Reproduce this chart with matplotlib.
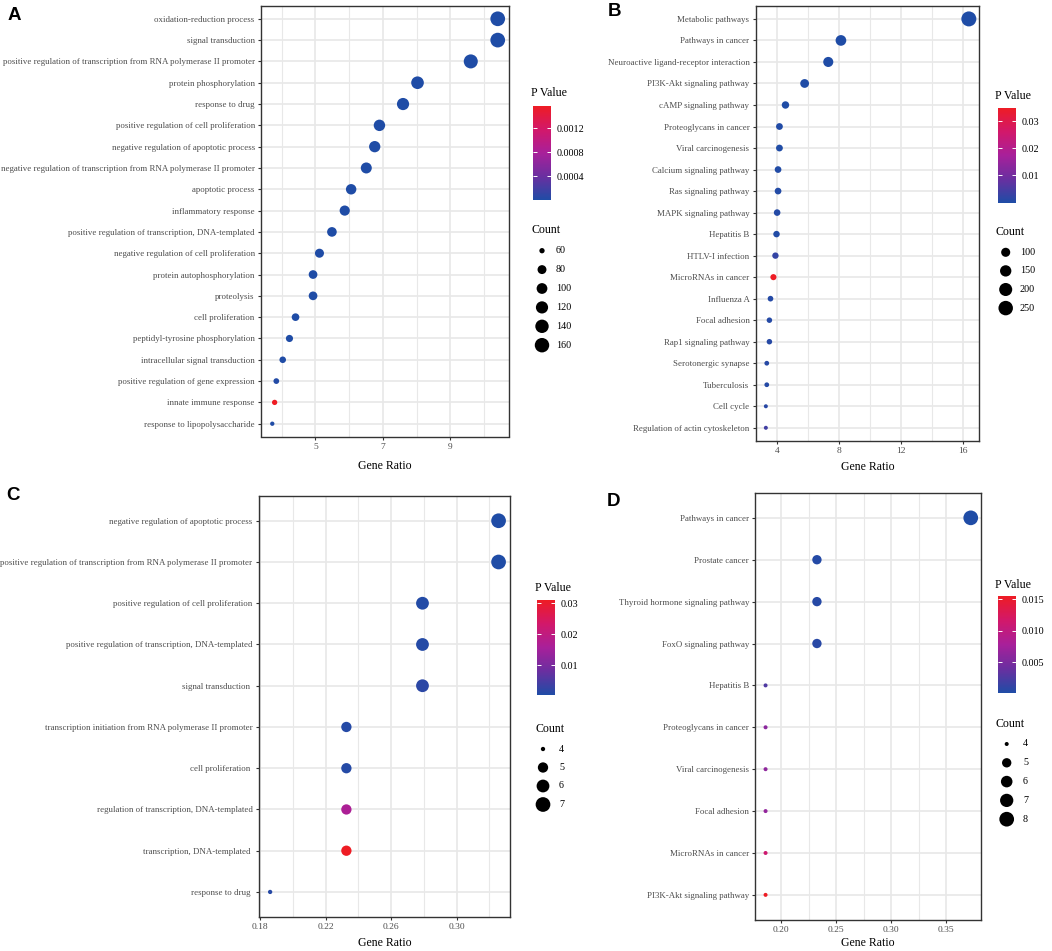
import numpy as np
import matplotlib
matplotlib.use("Agg")
import matplotlib.pyplot as plt
from matplotlib.colors import LinearSegmentedColormap, Normalize
from matplotlib.cm import ScalarMappable

W, H = 1052, 951

plt.rcParams["font.family"] = ["Liberation Serif", "DejaVu Serif"]

# ---- panel A : GO terms
a_terms = [
    "oxidation-reduction process",
    "signal transduction",
    "positive regulation of transcription from RNA polymerase II promoter",
    "protein phosphorylation",
    "response to drug",
    "positive regulation of cell proliferation",
    "negative regulation of apoptotic process",
    "negative regulation of transcription from RNA polymerase II promoter",
    "apoptotic process",
    "inflammatory response",
    "positive regulation of transcription, DNA-templated",
    "negative regulation of cell proliferation",
    "protein autophosphorylation",
    "proteolysis",
    "cell proliferation",
    "peptidyl-tyrosine phosphorylation",
    "intracellular signal transduction",
    "positive regulation of gene expression",
    "innate immune response",
    "response to lipopolysaccharide",
]
a_ratio = [10.41, 10.41, 9.61, 8.03, 7.60, 6.90, 6.76, 6.51, 6.06, 5.87,
           5.49, 5.12, 4.93, 4.93, 4.41, 4.23, 4.03, 3.84, 3.79, 3.72]
a_count = [165, 165, 152, 127, 120, 109, 107, 103, 96, 93,
           87, 81, 78, 78, 70, 67, 64, 61, 60, 59]
a_pvalue = [1e-12, 1e-11, 1e-9, 1e-10, 2e-8, 3e-8, 5e-8, 1e-7, 4e-8, 2e-7,
            1e-6, 3e-6, 1e-8, 2e-6, 5e-6, 1e-6, 8e-6, 2e-5, 0.00157, 1e-5]
a_xticks = [5, 7, 9]
a_xminor = [4, 6, 8, 10]
a_xticklabels = ["5", "7", "9"]
a_pticks = [0.0004, 0.0008, 0.0012]
a_plabels = ["0.0004", "0.0008", "0.0012"]
a_keys = [60, 80, 100, 120, 140, 160]

# ---- panel B : KEGG pathways
b_terms = [
    "Metabolic pathways", "Pathways in cancer",
    "Neuroactive ligand-receptor interaction", "PI3K-Akt signaling pathway",
    "cAMP signaling pathway", "Proteoglycans in cancer", "Viral carcinogenesis",
    "Calcium signaling pathway", "Ras signaling pathway", "MAPK signaling pathway",
    "Hepatitis B", "HTLV-I infection", "MicroRNAs in cancer", "Influenza A",
    "Focal adhesion", "Rap1 signaling pathway", "Serotonergic synapse",
    "Tuberculosis", "Cell cycle", "Regulation of actin cytoskeleton",
]
b_ratio = [16.41, 8.13, 7.31, 5.78, 4.54, 4.15, 4.15, 4.06, 4.06, 4.00,
           3.96, 3.89, 3.76, 3.57, 3.50, 3.50, 3.33, 3.33, 3.27, 3.27]
b_count = [270, 134, 120, 95, 75, 68, 68, 67, 67, 66,
           65, 64, 62, 59, 58, 58, 55, 55, 54, 54]
b_pvalue = [1e-20, 1e-9, 1e-7, 1e-5, 1e-4, 3e-4, 2e-4, 4e-4, 5e-4, 6e-4,
            3e-4, 0.0025, 0.0349, 7e-4, 8e-4, 9e-4, 1e-3, 8e-4, 1.2e-3, 0.004]
b_xticks = [4, 8, 12, 16]
b_xminor = [6, 10, 14]
b_xticklabels = ["4", "8", "12", "16"]
b_pticks = [0.01, 0.02, 0.03]
b_plabels = ["0.01", "0.02", "0.03"]
b_keys = [100, 150, 200, 250]

# ---- panel C : GO terms (second set)
c_terms = [
    "negative regulation of apoptotic process",
    "positive regulation of transcription from RNA polymerase II promoter",
    "positive regulation of cell proliferation",
    "positive regulation of transcription, DNA-templated",
    "signal transduction ",
    "transcription initiation from RNA polymerase II promoter",
    "cell proliferation ",
    "regulation of transcription, DNA-templated",
    "transcription, DNA-templated ",
    "response to drug ",
]
c_ratio = [0.3256, 0.3256, 0.2791, 0.2791, 0.2791, 0.2326, 0.2326, 0.2326, 0.2326, 0.1860]
c_count = [7, 7, 6, 6, 6, 5, 5, 5, 5, 4]
c_pvalue = [0.0004, 0.0005, 0.0008, 0.0009, 0.0016, 0.0010, 0.0011, 0.0165, 0.0311, 0.0012]
c_xticks = [0.18, 0.22, 0.26, 0.30]
c_xminor = [0.20, 0.24, 0.28, 0.32]
c_xticklabels = ["0.18", "0.22", "0.26", "0.30"]
c_pticks = [0.01, 0.02, 0.03]
c_plabels = ["0.01", "0.02", "0.03"]
c_keys = [4, 5, 6, 7]

# ---- panel D : KEGG pathways (second set)
d_terms = [
    "Pathways in cancer", "Prostate cancer", "Thyroid hormone signaling pathway",
    "FoxO signaling pathway", "Hepatitis B", "Proteoglycans in cancer",
    "Viral carcinogenesis", "Focal adhesion", "MicroRNAs in cancer",
    "PI3K-Akt signaling pathway",
]
d_ratio = [0.3721, 0.2326, 0.2326, 0.2326, 0.1860, 0.1860, 0.1860, 0.1860, 0.1860, 0.1860]
d_count = [8, 5, 5, 5, 4, 4, 4, 4, 4, 4]
d_pvalue = [0.0001, 0.0004, 0.0005, 0.0006, 0.0026, 0.0060, 0.0062, 0.0065, 0.0112, 0.0155]
d_xticks = [0.20, 0.25, 0.30, 0.35]
d_xminor = [0.225, 0.275, 0.325]
d_xticklabels = ["0.20", "0.25", "0.30", "0.35"]
d_pticks = [0.005, 0.010, 0.015]
d_plabels = ["0.005", "0.010", "0.015"]
d_keys = [4, 5, 6, 7, 8]

cmap = LinearSegmentedColormap.from_list(
    "pval", ["#1f4ca6", "#6a2fa0", "#a8209a", "#d2186a", "#ee1c24"])

GRID = "#E8E8E8"
EDGE = "#333333"


def rect(left, top, right, bottom):
    return [left / W, 1 - bottom / H, (right - left) / W, (bottom - top) / H]


def dot_area(counts, cmin, cmax, dmin, dmax):
    c = np.asarray(counts, dtype=float)
    d = dmin + (dmax - dmin) * np.sqrt(np.clip((c - cmin) / (cmax - cmin), 0, 1))
    return (d * 72 / 100) ** 2


def draw_panel(fig, box, terms, ratio, count, pvalue, xticks, xminor, xticklabels,
               dmin, dmax, labelpad):
    ax = fig.add_axes(rect(*box))
    n = len(terms)
    y = np.arange(n)[::-1]
    lo, hi = min(ratio), max(ratio)
    pad = (hi - lo) * 0.05
    norm = Normalize(min(pvalue), max(pvalue))
    ax.scatter(ratio, y, s=dot_area(count, min(count), max(count), dmin, dmax),
               c=pvalue, cmap=cmap, norm=norm, edgecolors="none", zorder=3)
    ax.set_xlim(lo - pad, hi + pad)
    ax.set_ylim(-0.6, n - 0.4)
    ax.set_yticks(y)
    ax.set_yticklabels(terms)
    ax.set_xticks(xticks)
    ax.set_xticklabels(xticklabels)
    ax.set_xticks(xminor, minor=True)
    ax.grid(True, which="major", color=GRID, lw=1.2, zorder=0)
    ax.grid(True, which="minor", axis="x", color=GRID, lw=0.8, zorder=0)
    ax.set_axisbelow(True)
    ax.tick_params(which="major", length=2.5, width=0.8, color=EDGE,
                   labelsize=6.4, labelcolor="#4D4D4D", pad=2)
    ax.tick_params(axis="x", labelsize=6.8)
    ax.tick_params(which="minor", length=0)
    for s in ax.spines.values():
        s.set_color(EDGE)
        s.set_linewidth(1.0)
    ax.set_xlabel("Gene Ratio", fontsize=8.5, labelpad=labelpad)
    return ax, norm


def draw_legend(fig, ov, norm, title_xy, cbar_box, pticks, plabels,
                count_title_y, key_y0, key_step, key_x, label_x,
                keys, cmin, cmax, dmin, dmax):
    ov.text(title_xy[0], title_xy[1], "P Value", fontsize=8.6, ha="left", va="center")
    cax = fig.add_axes(rect(*cbar_box))
    cb = fig.colorbar(ScalarMappable(norm=norm, cmap=cmap), cax=cax)
    cb.outline.set_visible(False)
    cb.set_ticks(pticks)
    cb.set_ticklabels(plabels)
    cax.minorticks_off()
    cax.tick_params(axis="y", left=True, right=True, labelleft=False,
                    labelright=True, direction="in", color="white",
                    length=3, width=0.7, labelsize=7.3, pad=4)
    ov.text(title_xy[0], count_title_y, "Count", fontsize=8.6, ha="left", va="center")
    ky = key_y0 + key_step * np.arange(len(keys))
    ov.scatter(np.full(len(keys), key_x), ky,
               s=dot_area(keys, cmin, cmax, dmin, dmax), c="black",
               edgecolors="none")
    for yy, k in zip(ky, keys):
        ov.text(label_x, yy, str(k), fontsize=7.3, ha="left", va="center")


fig = plt.figure(figsize=(W / 100, H / 100), dpi=100)

axA, normA = draw_panel(fig, (261, 6, 509, 436.5), a_terms, a_ratio, a_count,
                        a_pvalue, a_xticks, a_xminor, a_xticklabels, 4.3, 14.7, 7)
axB, normB = draw_panel(fig, (755.7, 6, 979, 440.7), b_terms, b_ratio, b_count,
                        b_pvalue, b_xticks, b_xminor, b_xticklabels, 4.0, 15.0, 4)
axC, normC = draw_panel(fig, (258.7, 496, 510, 916.7), c_terms, c_ratio, c_count,
                        c_pvalue, c_xticks, c_xminor, c_xticklabels, 4.3, 14.7, 4)
axD, normD = draw_panel(fig, (755.3, 492.7, 981, 920), d_terms, d_ratio, d_count,
                        d_pvalue, d_xticks, d_xminor, d_xticklabels, 4.0, 14.7, 2)

ov = fig.add_axes([0, 0, 1, 1])
ov.set_xlim(0, W)
ov.set_ylim(H, 0)
ov.axis("off")

draw_legend(fig, ov, normA, (531, 93), (533, 106, 551, 200), a_pticks, a_plabels,
            230, 250.7, 18.9, 542, 556, a_keys, min(a_count), max(a_count), 4.3, 14.7)
draw_legend(fig, ov, normB, (995, 96), (997.7, 107.7, 1015.7, 202.7), b_pticks, b_plabels,
            232, 252.3, 18.6, 1005.7, 1020, b_keys, min(b_count), max(b_count), 4.0, 15.0)
draw_legend(fig, ov, normC, (535, 588), (537.3, 600, 554.7, 695), c_pticks, c_plabels,
            729, 749, 18.5, 543, 559, c_keys, min(c_count), max(c_count), 4.3, 14.7)
draw_legend(fig, ov, normD, (995, 585), (997.7, 596, 1015.7, 693), d_pticks, d_plabels,
            724, 744, 18.8, 1006.7, 1023, d_keys, min(d_count), max(d_count), 4.0, 14.7)

for lab, x, y in [("A", 8, 15), ("B", 608, 12), ("C", 6, 496), ("D", 607, 501)]:
    ov.text(x, y, lab, fontsize=13.5, fontweight="bold", family="Liberation Sans",
            ha="left", va="center")

fig.savefig("out.png", dpi=100)
